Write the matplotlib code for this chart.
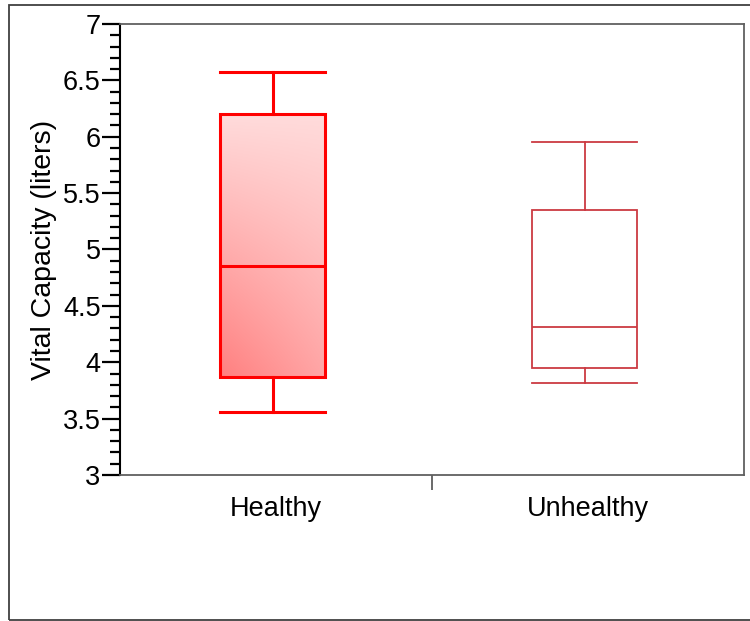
import numpy as np
import matplotlib
matplotlib.use("Agg")
from matplotlib import pyplot as plt
from matplotlib.patches import Rectangle

groups = ["Healthy", "Unhealthy"]
whisker_low = [3.56, 3.82]
q1 = [3.87, 3.95]
median = [4.85, 4.31]
q3 = [6.20, 5.35]
whisker_high = [6.57, 5.95]

plt.rcParams['font.family'] = ['Liberation Sans', 'DejaVu Sans']

fig = plt.figure(figsize=(7.5, 6.21), dpi=100)
ax = fig.add_axes([0.16, 0.2351, 0.832, 0.7263])

pos = [0.49, 1.49]
bw = 0.337
stats = []
for i in range(len(groups)):
    stats.append(dict(label=groups[i], whislo=whisker_low[i], q1=q1[i],
                      med=median[i], q3=q3[i], whishi=whisker_high[i], fliers=[]))

edge = ["#ff0000", "#cc3a42"]
lws = [2.2, 1.3]
for i in range(len(groups)):
    res = ax.bxp([stats[i]], positions=[pos[i]], widths=bw, capwidths=bw,
                 patch_artist=True, showfliers=False,
                 boxprops=dict(facecolor="none", edgecolor=edge[i], linewidth=lws[i]),
                 medianprops=dict(color=edge[i], linewidth=lws[i]),
                 whiskerprops=dict(color=edge[i], linewidth=lws[i]),
                 capprops=dict(color=edge[i], linewidth=lws[i]),
                 manage_ticks=False)
    for art in res["boxes"] + res["medians"] + res["whiskers"] + res["caps"]:
        art.set_zorder(3)
    if i == 0:
        # gradient fill for the healthy box
        box = res["boxes"][0]
        u, v = np.meshgrid(np.linspace(0, 1, 60), np.linspace(0, 1, 120))
        a = 0.5 - 0.36 * v - 0.15 * u * (1 - v)
        img = np.dstack([np.ones_like(a), 1 - a, 1 - a])
        x0, x1 = pos[0] - bw / 2, pos[0] + bw / 2
        im = ax.imshow(img, extent=[x0, x1, q1[0], q3[0]], origin="lower",
                       aspect="auto", zorder=2, interpolation="bilinear")
        im.set_clip_path(box)

ax.set_xlim(0, 2)
ax.set_ylim(3, 7)
ax.set_yticks(np.arange(3, 7.01, 0.5))
ax.set_yticklabels(["3", "3.5", "4", "4.5", "5", "5.5", "6", "6.5", "7"])
ax.set_yticks(np.arange(3, 7.01, 0.1), minor=True)
ax.tick_params(axis="y", which="major", length=13, width=1.6, color="black",
               labelsize=19.5, pad=1)
ax.tick_params(axis="y", which="minor", length=7, width=1.6, color="black")

ax.set_xticks([1.0 - 0.5, 2.0 - 0.5])
ax.set_xticklabels(groups)
ax.set_xticks([1.0], minor=True)
ax.tick_params(axis="x", which="major", length=0, labelsize=19.5, pad=15)
ax.tick_params(axis="x", which="minor", length=11, width=1.2, color="#505050")

ax.spines["left"].set_color("black")
ax.spines["left"].set_linewidth(1.5)
for s in ["top", "right", "bottom"]:
    ax.spines[s].set_color("#606060")
    ax.spines[s].set_linewidth(1.3)

ax.set_ylabel("Vital Capacity (liters)", fontsize=20.5, labelpad=4)

fig.add_artist(Rectangle((9 / 750, 1 / 621), 1.0, 1 - 6 / 621,
                         transform=fig.transFigure, fill=False,
                         edgecolor="#404040", linewidth=1.3))

fig.savefig("out.png", dpi=100)
